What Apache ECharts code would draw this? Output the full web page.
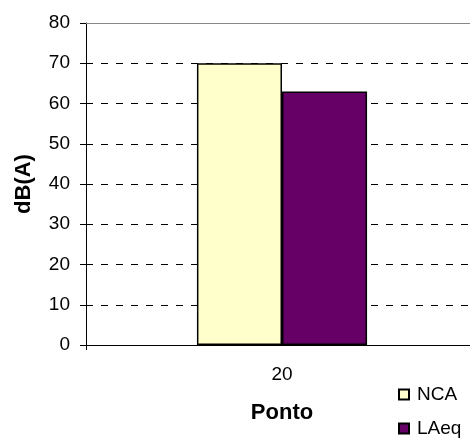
<!DOCTYPE html>
<html>
<head>
<meta charset="utf-8">
<script src="https://cdn.jsdelivr.net/npm/echarts@6/dist/echarts.min.js"></script>
<style>
  html, body { margin: 0; padding: 0; background: #fff; overflow: hidden; }
  /* the plot runs a little past the right edge of the window */
  #chart { width: 478px; height: 438px; }
</style>
</head>
<body>
<div id="chart"></div>
<script>
// Measurement point and noise levels, dB(A)
const categories = ['20'];
const seriesNames = ['NCA', 'LAeq'];
const ncaValues = [70];
const laeqValues = [63];
const yTicks = [0, 10, 20, 30, 40, 50, 60, 70, 80];
const yMax = yTicks[yTicks.length - 1];

const font = 'Liberation Sans, Arial, sans-serif';
const chart = echarts.init(document.getElementById('chart'), null, { renderer: 'canvas' });

// dashed black gridlines; the top one is drawn solid grey instead
const splitColors = yTicks.map((t) => (t === yMax ? 'rgba(0,0,0,0)' : '#000'));

chart.setOption({
  animation: false,
  textStyle: { fontFamily: font },
  grid: { left: 86, right: 0, top: 23, bottom: 93 },
  legend: {
    orient: 'vertical',
    left: 398, top: 385,
    padding: 0,
    itemWidth: 10, itemHeight: 10, itemGap: 15,
    icon: 'rect',
    textStyle: { fontFamily: font, fontSize: 19, color: '#000', padding: [0, 0, 0, 3] },
    data: seriesNames
  },
  xAxis: {
    type: 'category',
    data: categories,
    name: 'Ponto',
    nameLocation: 'middle',
    nameGap: 57,
    nameTextStyle: { fontFamily: font, fontSize: 22, fontWeight: 'bold', color: '#000' },
    axisLine: { lineStyle: { color: '#000', width: 1 } },
    axisTick: { show: true, length: 5, lineStyle: { color: '#000' } },
    axisLabel: { fontFamily: font, fontSize: 19, color: '#000', margin: 20 }
  },
  yAxis: {
    type: 'value',
    min: 0, max: yMax, interval: 10,
    name: 'dB(A)',
    nameLocation: 'middle',
    nameRotate: 90,
    nameGap: 51,
    nameTextStyle: { fontFamily: font, fontSize: 22, fontWeight: 'bold', color: '#000' },
    axisLine: { show: true, lineStyle: { color: '#000', width: 1 } },
    axisTick: { show: true, length: 6, lineStyle: { color: '#000' } },
    axisLabel: { fontFamily: font, fontSize: 19, color: '#000', margin: 16 },
    splitLine: { show: true, lineStyle: { color: splitColors, type: [7, 8], width: 1 } }
  },
  series: [
    {
      name: seriesNames[0], type: 'bar', data: ncaValues,
      barGap: '0%', barCategoryGap: '56.6%',
      itemStyle: { color: '#FFFFCC', borderColor: '#000', borderWidth: 1.5 },
      markLine: {
        silent: true, symbol: 'none', label: { show: false },
        lineStyle: { color: '#888', type: 'solid', width: 1 },
        data: [{ yAxis: yMax }]
      }
    },
    {
      name: seriesNames[1], type: 'bar', data: laeqValues,
      itemStyle: { color: '#660066', borderColor: '#000', borderWidth: 1.5 }
    }
  ]
});
</script>
</body>
</html>
